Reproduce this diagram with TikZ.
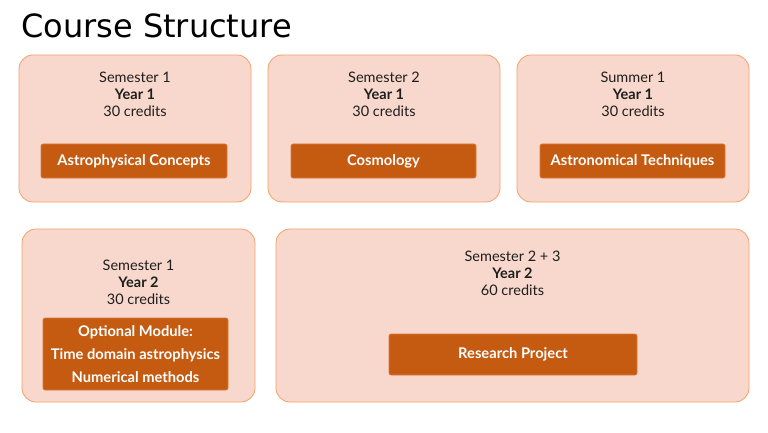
\documentclass[tikz,border=0pt]{standalone}
\usepackage{fontspec}
\setmainfont{Lato}
\newfontfamily\titlefont{DejaVu Sans}
\usetikzlibrary{positioning}
\definecolor{termFill}{RGB}{248,216,204}
\definecolor{termLine}{RGB}{243,160,105}
\definecolor{modFill}{RGB}{197,90,17}
\definecolor{modLine}{RGB}{222,120,60}
\definecolor{textDark}{RGB}{30,30,30}
\tikzset{
  term/.style={draw=termLine,fill=termFill,rounded corners=14pt,line width=0.8pt,
               inner sep=0pt},
  info/.style={font=\fontsize{14.5}{17}\selectfont,align=center,text=textDark,inner sep=0pt},
  module/.style={draw=modLine,fill=modFill,rounded corners=2pt,line width=0.6pt,
                 inner sep=0pt,text=white,align=center,
                 font=\fontsize{14.7}{23}\selectfont\bfseries},
}
\begin{document}
\begin{tikzpicture}[x=1pt,y=-1pt]
  \useasboundingbox (0,0) rectangle (768,433);
  \node[anchor=base west,font=\titlefont\fontsize{32}{36}\selectfont,inner sep=0pt] (title) at (21,38) {Course Structure};
  % first year
  \node[term,minimum width=232pt,minimum height=147pt] (s1) at (135,128.5) {};
  \node[term,minimum width=232pt,minimum height=147pt] (s2) at (384,128.5) {};
  \node[term,minimum width=232pt,minimum height=147pt] (su) at (633,128.5) {};
  \node[info] (s1t) at (135,94) {Semester 1\\\textbf{Year 1}\\30 credits};
  \node[info] (s2t) at (384,94) {Semester 2\\\textbf{Year 1}\\30 credits};
  \node[info] (sut) at (633,94) {Summer 1\\\textbf{Year 1}\\30 credits};
  \node[module,minimum width=186pt,minimum height=34pt] (m1) at (134,161) {Astrophysical Concepts};
  \node[module,minimum width=185pt,minimum height=34pt] (m2) at (383.5,161) {Cosmology};
  \node[module,minimum width=185pt,minimum height=34pt] (m3) at (632.5,161) {Astronomical Techniques};
  % second year
  \node[term,minimum width=233pt,minimum height=173pt] (t1) at (138.5,315.5) {};
  \node[term,minimum width=473pt,minimum height=173pt] (t2) at (512.5,315.5) {};
  \node[info] (t1t) at (138.5,282) {Semester 1\\\textbf{Year 2}\\30 credits};
  \node[info] (t2t) at (512.5,273) {Semester 2 + 3\\\textbf{Year 2}\\60 credits};
  \node[module,minimum width=185pt,minimum height=72pt] (m4) at (135.5,354) {Optional Module:\\Time domain astrophysics\\Numerical methods};
  \node[module,minimum width=248pt,minimum height=41pt] (m5) at (513,354.5) {Research Project};
\end{tikzpicture}
\end{document}
